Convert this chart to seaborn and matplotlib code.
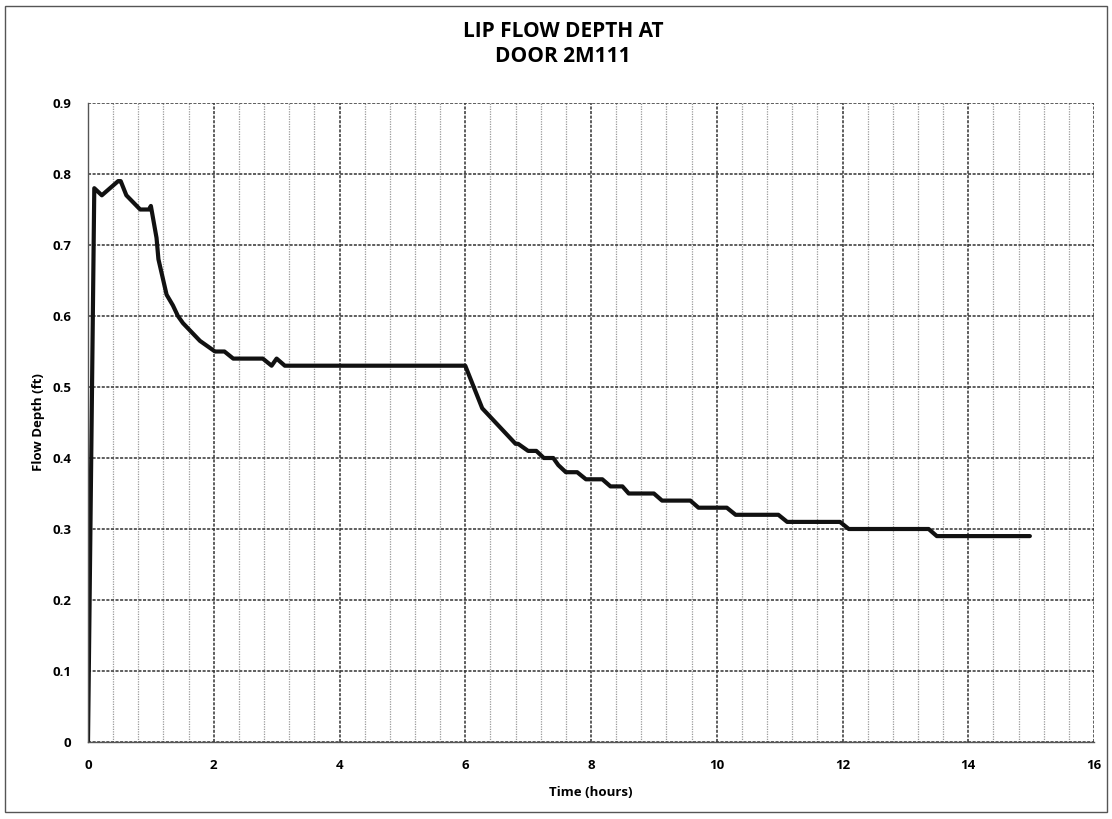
import pandas as pd
import seaborn as sns
import matplotlib.pyplot as plt
from matplotlib.ticker import MultipleLocator
from matplotlib.patches import Rectangle

# values
time_hours = [0.0, 0.1, 0.22, 0.48, 0.52, 0.61, 0.83, 0.97, 1.0, 1.09, 1.12, 1.25, 1.35,
              1.43, 1.51, 1.78, 1.86, 2.02, 2.17, 2.31, 2.78, 2.92, 3.0, 3.13, 6.0, 6.27,
              6.8, 6.84, 7.0, 7.13, 7.25, 7.4, 7.48, 7.6, 7.78, 7.92, 8.18, 8.31, 8.5,
              8.6, 9.0, 9.13, 9.58, 9.71, 10.16, 10.3, 10.98, 11.12, 11.96, 12.1, 13.37,
              13.5, 14.98]
flow_depth = [0.0, 0.78, 0.77, 0.79, 0.79, 0.77, 0.75, 0.75, 0.755, 0.71, 0.68, 0.63, 0.615,
              0.60, 0.59, 0.565, 0.56, 0.55, 0.55, 0.54, 0.54, 0.53, 0.54, 0.53, 0.53, 0.47,
              0.42, 0.42, 0.41, 0.41, 0.40, 0.40, 0.39, 0.38, 0.38, 0.37, 0.37, 0.36, 0.36,
              0.35, 0.35, 0.34, 0.34, 0.33, 0.33, 0.32, 0.32, 0.31, 0.31, 0.30, 0.30,
              0.29, 0.29]

df = pd.DataFrame({'Time': time_hours, 'Depth': flow_depth})

sns.set_style('white')
plt.rcParams['font.family'] = ['Open Sans', 'DejaVu Sans']
plt.rcParams['font.weight'] = 'bold'
plt.rcParams['text.color'] = 'black'
plt.rcParams['axes.labelcolor'] = 'black'
plt.rcParams['xtick.color'] = 'black'
plt.rcParams['ytick.color'] = 'black'

fig = plt.figure(figsize=(11.12, 8.19), dpi=100)
ax = fig.add_axes([88 / 1112, 1 - 742 / 819, (1094 - 88) / 1112, (742 - 103) / 819])

# minor grid first, then major grid
ax.xaxis.set_major_locator(MultipleLocator(2))
ax.xaxis.set_minor_locator(MultipleLocator(0.4))
ax.yaxis.set_major_locator(MultipleLocator(0.1))
ax.grid(which='minor', axis='x', color='#9a9a9a', linewidth=0.9, linestyle=(0, (1, 1)))
ax.grid(which='major', axis='both', color='#333333', linewidth=1.1, linestyle=(0, (2, 1)))
ax.set_axisbelow(True)

sns.lineplot(data=df, x='Time', y='Depth', color='#111111', linewidth=3.0, ax=ax)

ax.set_xlim(0, 16)
ax.set_ylim(0, 0.9)
ax.set_yticks([0, 0.1, 0.2, 0.3, 0.4, 0.5, 0.6, 0.7, 0.8, 0.9])
ax.set_yticklabels(['0', '0.1', '0.2', '0.3', '0.4', '0.5', '0.6', '0.7', '0.8', '0.9'])
ax.tick_params(axis='both', which='both', length=0, labelsize=9.5, pad=12)
for lab in ax.get_xticklabels() + ax.get_yticklabels():
    lab.set_fontweight('bold')

for side in ['top', 'right']:
    ax.spines[side].set_visible(False)
for side in ['left', 'bottom']:
    ax.spines[side].set_color('#555555')
    ax.spines[side].set_linewidth(1.0)

ax.set_xlabel('Time (hours)', fontsize=9.5, fontweight='bold', labelpad=10)
ax.set_ylabel('Flow Depth (ft)', fontsize=9.5, fontweight='bold', labelpad=10)
ax.yaxis.set_label_coords(-0.043, 0.5)

fig.text(563 / 1112, 1 - 44 / 819, 'LIP FLOW DEPTH AT\nDOOR 2M111', ha='center', va='center',
         fontsize=15, fontweight='bold', linespacing=1.3)

# outer chart border
fig.patches.append(Rectangle((5 / 1112, 1 - 812 / 819), 1102 / 1112, 806 / 819,
                             transform=fig.transFigure, fill=False, edgecolor='#555555',
                             linewidth=1.0))

fig.savefig('out.png', dpi=100)
